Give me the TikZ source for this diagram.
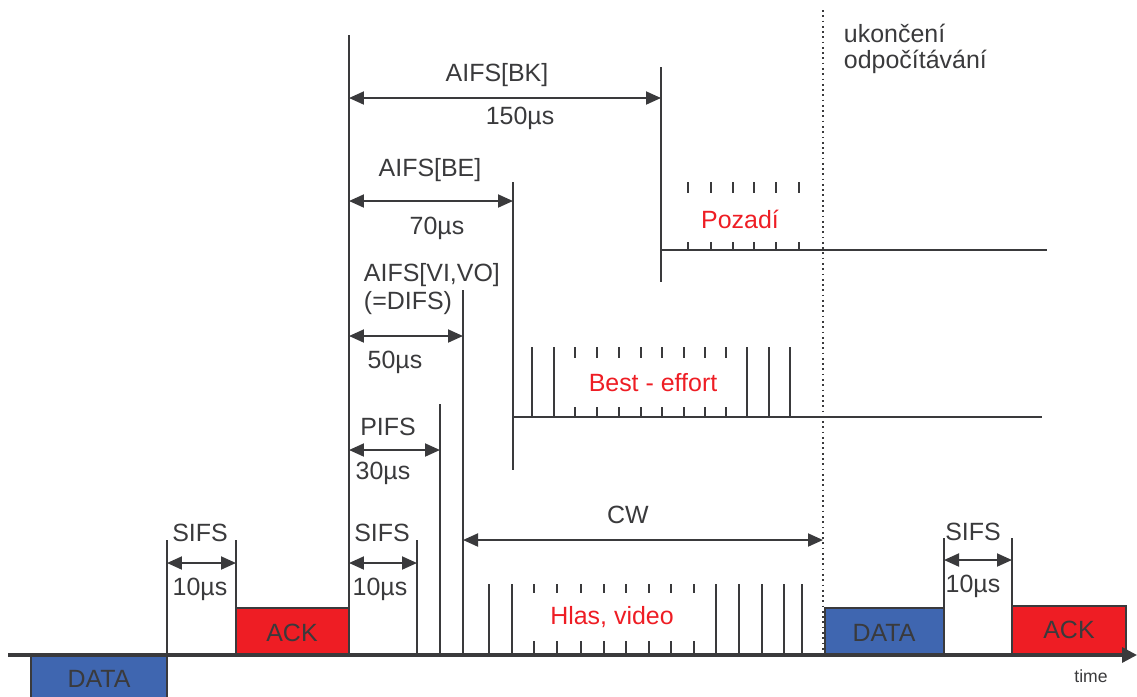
\documentclass[tikz,border=0pt]{standalone}
\usepackage{fontspec}
\setmainfont{Liberation Sans}
\usetikzlibrary{arrows.meta}

\definecolor{ink}{HTML}{3A3A3C}
\definecolor{datablue}{HTML}{3F66B0}
\definecolor{ackred}{HTML}{EE1D24}

\begin{document}
\begin{tikzpicture}[x=0.02cm, y=-0.02cm, color=ink, line width=1.1pt,
    lbl/.style={font=\fontsize{14.2}{15}\selectfont, text=ink, inner sep=0pt},
    redlbl/.style={lbl, text=ackred},
    dim/.style={{Triangle[length=0.3cm,width=0.26cm]}-{Triangle[length=0.3cm,width=0.26cm]}},
    frame/.style={draw=ink, line width=1.3pt}]
    \useasboundingbox (0,0) rectangle (1137,697);

    % Frames
    \fill[datablue] (31,655) rectangle (167,697);
    \draw[line width=1.3pt] (31,697) -- (31,655) -- (167,655) -- (167,697);
    \node[lbl] (data1) at (99,679) {DATA};
    \draw[frame, fill=ackred] (236,608) rectangle (349,655);
    \node[lbl] (ack1) at (292,633) {ACK};
    \draw[frame, fill=datablue] (825,608) rectangle (944,655);
    \node[lbl] (data2) at (884,633) {DATA};
    \draw[frame, fill=ackred] (1012,606) rectangle (1126,655);
    \node[lbl] (ack2) at (1069,630) {ACK};

    % Boundaries
    \draw (167,540) -- (167,655);
    \draw (236,540) -- (236,655);
    \draw (349,35) -- (349,655);
    \draw (417,540) -- (417,655);
    \draw (440,404) -- (440,655);
    \draw (463,290) -- (463,655);
    \draw (513,182) -- (513,470);
    \draw (661,67) -- (661,282);
    \draw (944,538) -- (944,655);
    \draw (1012,538) -- (1012,655);
    \draw[dotted, line width=1pt] (823,10) -- (823,655);
    \draw (661,250) -- (1047,250);
    \draw (513,417) -- (1042,417);

    % Slots
    \foreach \x in {688,711,733,754,776,799} {
        \draw (\x,182) -- (\x,193);
        \draw (\x,242) -- (\x,250);
    }
    \foreach \x in {532,554,747,769,790}
        \draw (\x,347) -- (\x,417);
    \foreach \x in {575,597,619,641,662,684,705,726} {
        \draw (\x,347) -- (\x,358);
        \draw (\x,407) -- (\x,417);
    }
    \foreach \x in {489,512,716,739,762,784,802}
        \draw (\x,584) -- (\x,655);
    \foreach \x in {534,557,581,604,626,649,671,694} {
        \draw (\x,584) -- (\x,593);
        \draw (\x,641) -- (\x,655);
    }

    % Intervals
    \coordinate (s1a) at (167,563);  \coordinate (s1b) at (236,563);
    \coordinate (s2a) at (349,563);  \coordinate (s2b) at (417,563);
    \coordinate (pia) at (349,450);  \coordinate (pib) at (440,450);
    \coordinate (dia) at (349,336);  \coordinate (dib) at (463,336);
    \coordinate (bea) at (349,201);  \coordinate (beb) at (513,201);
    \coordinate (bka) at (349,98);   \coordinate (bkb) at (661,98);
    \coordinate (cwa) at (463,540);  \coordinate (cwb) at (823,540);
    \coordinate (s3a) at (944,560);  \coordinate (s3b) at (1012,560);
    \draw[dim] (s1a) -- (s1b);
    \draw[dim] (s2a) -- (s2b);
    \draw[dim] (pia) -- (pib);
    \draw[dim] (dia) -- (dib);
    \draw[dim] (bea) -- (beb);
    \draw[dim] (bka) -- (bkb);
    \draw[dim] (cwa) -- (cwb);
    \draw[dim] (s3a) -- (s3b);

    % Labels
    \node[lbl] (sifs1) at (200,533) {SIFS};
    \node[lbl] (t1) at (200,589) {10µs};
    \node[lbl] (sifs2) at (382,533) {SIFS};
    \node[lbl] (t2) at (380,589) {10µs};
    \node[lbl] (pifs) at (388,427) {PIFS};
    \node[lbl] (t3) at (383,473) {30µs};
    \node[lbl, anchor=west] (vivo) at (363,275) {AIFS[VI,VO]};
    \node[lbl, anchor=west] (difs) at (363,303) {(=DIFS)};
    \node[lbl] (t4) at (395,362) {50µs};
    \node[lbl] (be) at (430,170) {AIFS[BE]};
    \node[lbl] (t5) at (437,228) {70µs};
    \node[lbl] (bk) at (497,75) {AIFS[BK]};
    \node[lbl] (t6) at (520,118) {150µs};
    \node[lbl] (cw) at (628,515) {CW};
    \node[lbl] (sifs3) at (973,532) {SIFS};
    \node[lbl] (t7) at (973,586) {10µs};
    \node[lbl, anchor=west, align=left, font=\fontsize{14.2}{14.8}\selectfont] (stop) at (843,49) {ukončení\\odpočítávání};
    \node[redlbl] (bg) at (740,219) {Pozadí};
    \node[redlbl] (bef) at (653,383) {Best - effort};
    \node[redlbl] (voice) at (612,617) {Hlas, video};
    \node[lbl, font=\fontsize{10}{12}\selectfont] (time) at (1091,676) {time};

    % Axis
    \draw[line width=1.8pt, -{Triangle[length=0.3cm,width=0.3cm]}] (8,655) -- (1137,655);
\end{tikzpicture}
\end{document}
